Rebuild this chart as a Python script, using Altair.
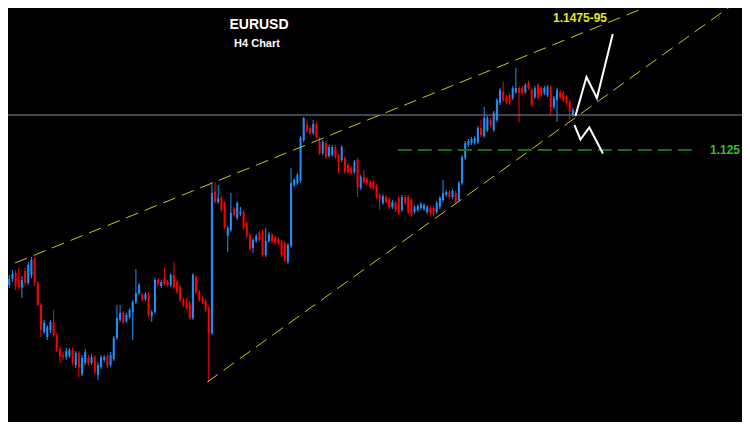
import altair as alt
import pandas as pd

# ---------------- data (EURUSD H4 candles) ----------------
opens = [1.1120,1.1115,1.1121,1.1127,1.1120,1.1113,1.1129,1.1117,1.1125,1.1141,
 1.1117,1.1095,1.1068,1.1063,1.1070,1.1078,1.1065,1.1051,1.1045,1.1043,
 1.1044,1.1050,1.1035,1.1047,1.1026,1.1037,1.1042,1.1037,1.1043,1.1025,
 1.1033,1.1040,1.1044,1.1035,1.1041,1.1062,1.1080,1.1087,1.1079,1.1083,
 1.1088,1.1098,1.1107,1.1105,1.1101,1.1106,1.1084,1.1088,1.1120,1.1114,
 1.1122,1.1118,1.1115,1.1125,1.1118,1.1113,1.1100,1.1096,1.1097,1.1082,
 1.1123,1.1108,1.1102,1.1099,1.1092,1.1067,1.1208,1.1198,1.1202,1.1197,
 1.1164,1.1170,1.1191,1.1182,1.1186,1.1188,1.1177,1.1165,1.1152,1.1159,
 1.1167,1.1168,1.1145,1.1159,1.1165,1.1162,1.1161,1.1158,1.1157,1.1138,
 1.1154,1.1215,1.1217,1.1219,1.1260,1.1275,1.1272,1.1267,1.1276,1.1258,
 1.1247,1.1257,1.1244,1.1245,1.1253,1.1245,1.1240,1.1242,1.1235,1.1232,
 1.1228,1.1240,1.1212,1.1223,1.1221,1.1218,1.1218,1.1214,1.1205,1.1197,
 1.1203,1.1201,1.1193,1.1197,1.1202,1.1190,1.1203,1.1203,1.1200,1.1188,
 1.1190,1.1192,1.1191,1.1188,1.1192,1.1192,1.1188,1.1193,1.1200,1.1205,
 1.1208,1.1203,1.1207,1.1200,1.1217,1.1242,1.1255,1.1257,1.1257,1.1258,
 1.1272,1.1264,1.1270,1.1280,1.1270,1.1280,1.1297,1.1308,1.1303,
 1.1305,1.1302,1.1308,1.1312,1.1312,
 1.1308,1.1317,1.1310,1.1303,1.1315,1.1312,1.1307,
 1.1305,1.1313,1.1293,1.1300,1.1308,1.1307,1.1303,1.1298,1.1285]

closes = [1.1115,1.1121,1.1126,1.1114,1.1113,1.1120,1.1117,1.1135,1.1140,1.1117,
 1.1095,1.1070,1.1077,1.1073,1.1078,1.1065,1.1050,1.1044,1.1043,1.1049,
 1.1050,1.1037,1.1047,1.1033,1.1042,1.1048,1.1037,1.1043,1.1028,1.1035,
 1.1043,1.1043,1.1034,1.1045,1.1062,1.1082,1.1087,1.1078,1.1085,1.1090,
 1.1098,1.1107,1.1115,1.1101,1.1106,1.1085,1.1088,1.1120,1.1116,1.1118,
 1.1116,1.1115,1.1125,1.1113,1.1108,1.1100,1.1095,1.1092,1.1082,1.1125,
 1.1108,1.1100,1.1098,1.1090,1.1067,1.1207,1.1198,1.1202,1.1190,1.1173,
 1.1172,1.1187,1.1185,1.1197,1.1188,1.1172,1.1164,1.1151,1.1160,1.1164,
 1.1160,1.1145,1.1159,1.1166,1.1159,1.1157,1.1157,1.1145,1.1140,1.1155,
 1.1217,1.1220,1.1225,1.1262,1.1282,1.1269,1.1267,1.1276,1.1263,1.1247,
 1.1258,1.1243,1.1253,1.1253,1.1243,1.1238,1.1253,1.1228,1.1228,1.1227,
 1.1238,1.1213,1.1223,1.1218,1.1217,1.1213,1.1212,1.1203,1.1201,1.1204,
 1.1198,1.1193,1.1198,1.1190,1.1187,1.1203,1.1197,1.1188,1.1185,1.1193,
 1.1194,1.1196,1.1195,1.1193,1.1187,1.1186,1.1197,1.1202,1.1207,1.1208,
 1.1203,1.1209,1.1198,1.1217,1.1243,1.1257,1.1259,1.1261,1.1262,1.1272,
 1.1265,1.1282,1.1282,1.1275,1.1287,1.1300,1.1310,1.1300,1.1298,
 1.1297,1.1312,1.1312,1.1307,1.1307,
 1.1315,1.1312,1.1295,1.1312,1.1303,1.1305,1.1312,
 1.1313,1.1293,1.1302,1.1310,1.1303,1.1300,1.1297,1.1288,1.1290]

highs = [1.1124,1.1125,1.1130,1.1130,1.1132,1.1124,1.1132,1.1138,1.1143,1.1143,
 1.1119,1.1097,1.1080,1.1075,1.1080,1.1090,1.1067,1.1054,1.1048,1.1052,
 1.1052,1.1052,1.1049,1.1049,1.1045,1.1051,1.1045,1.1046,1.1045,1.1038,
 1.1045,1.1045,1.1046,1.1048,1.1064,1.1095,1.1095,1.1089,1.1087,1.1092,
 1.1100,1.1131,1.1117,1.1107,1.1108,1.1108,1.1090,1.1122,1.1122,1.1120,
 1.1132,1.1120,1.1127,1.1138,1.1120,1.1115,1.1102,1.1102,1.1099,1.1127,
 1.1125,1.1110,1.1104,1.1101,1.1094,1.1218,1.1218,1.1215,1.1204,1.1199,
 1.1174,1.1207,1.1193,1.1199,1.1193,1.1190,1.1179,1.1167,1.1162,1.1166,
 1.1169,1.1170,1.1172,1.1168,1.1167,1.1164,1.1163,1.1160,1.1159,1.1157,
 1.1232,1.1222,1.1227,1.1264,1.1283,1.1280,1.1274,1.1280,1.1278,1.1263,
 1.1260,1.1259,1.1255,1.1255,1.1255,1.1247,1.1255,1.1244,1.1237,1.1234,
 1.1240,1.1242,1.1225,1.1230,1.1223,1.1220,1.1220,1.1216,1.1207,1.1206,
 1.1205,1.1203,1.1200,1.1199,1.1204,1.1205,1.1205,1.1205,1.1202,1.1195,
 1.1196,1.1198,1.1197,1.1195,1.1194,1.1194,1.1199,1.1204,1.1220,1.1210,
 1.1210,1.1211,1.1209,1.1219,1.1245,1.1259,1.1261,1.1263,1.1264,1.1274,
 1.1280,1.1293,1.1284,1.1282,1.1289,1.1302,1.1312,1.1318,1.1305,
 1.1307,1.1314,1.1332,1.1314,1.1314,
 1.1317,1.1319,1.1312,1.1314,1.1317,1.1314,1.1314,
 1.1315,1.1315,1.1304,1.1312,1.1310,1.1309,1.1305,1.1300,1.1292]

lows = [1.1110,1.1112,1.1118,1.1110,1.1110,1.1102,1.1114,1.1115,1.1122,1.1114,
 1.1094,1.1063,1.1066,1.1060,1.1067,1.1063,1.1048,1.1037,1.1040,1.1040,
 1.1042,1.1035,1.1032,1.1023,1.1024,1.1035,1.1034,1.1035,1.1026,1.1020,
 1.1031,1.1038,1.1032,1.1033,1.1039,1.1060,1.1078,1.1076,1.1077,1.1081,
 1.1060,1.1096,1.1105,1.1099,1.1099,1.1083,1.1078,1.1086,1.1114,1.1112,
 1.1114,1.1113,1.1113,1.1111,1.1106,1.1098,1.1093,1.1090,1.1080,1.1080,
 1.1106,1.1098,1.1096,1.1088,1.1018,1.1065,1.1196,1.1196,1.1188,1.1171,
 1.1148,1.1168,1.1183,1.1180,1.1184,1.1170,1.1162,1.1149,1.1147,1.1157,
 1.1158,1.1143,1.1143,1.1157,1.1157,1.1155,1.1155,1.1143,1.1138,1.1136,
 1.1152,1.1213,1.1215,1.1217,1.1258,1.1267,1.1265,1.1265,1.1261,1.1245,
 1.1245,1.1241,1.1242,1.1243,1.1241,1.1227,1.1238,1.1226,1.1226,1.1225,
 1.1226,1.1203,1.1210,1.1216,1.1215,1.1211,1.1210,1.1201,1.1190,1.1195,
 1.1196,1.1191,1.1191,1.1188,1.1185,1.1188,1.1195,1.1186,1.1183,1.1186,
 1.1188,1.1190,1.1189,1.1186,1.1185,1.1184,1.1186,1.1191,1.1198,1.1203,
 1.1201,1.1201,1.1196,1.1198,1.1215,1.1240,1.1253,1.1255,1.1255,1.1256,
 1.1263,1.1262,1.1268,1.1273,1.1268,1.1278,1.1295,1.1298,1.1296,
 1.1295,1.1300,1.1306,1.1278,1.1305,
 1.1306,1.1310,1.1293,1.1301,1.1301,1.1303,1.1305,
 1.1303,1.1285,1.1291,1.1278,1.1301,1.1298,1.1295,1.1280,1.1283]

# trend lines (bar index, price)
upper_trend_x = [2.8, 217.8]
upper_trend_y = [1.1137, 1.1413]
lower_trend_x = [63.55, 233.3]
lower_trend_y = [1.1018, 1.1404]

current_level = 1.1285          # grey horizontal line
support_level = 1.1250          # green dashed line
support_x = [123.7, 218.5]

# white scenario zig-zags (bar index, price)
up_path_x = [179.8, 183.3, 186.6, 191.6]
up_path_y = [1.1284, 1.1323, 1.1302, 1.1366]
down_path_x = [179.5, 181.4, 184.2, 188.5]
down_path_y = [1.1275, 1.12605, 1.12725, 1.12465]

# ---------------- chart ----------------
W, H = 734, 414
xs = alt.Scale(domain=[2.181, 230.84], nice=False, zero=False)
ys = alt.Scale(domain=[1.0978, 1.1392], nice=False, zero=False)

df = pd.DataFrame({"i": list(range(len(opens))), "open": opens, "close": closes,
                   "high": highs, "low": lows})
df["dir"] = ["up" if c >= o else "down" for o, c in zip(opens, closes)]

col = alt.Color("dir:N", scale=alt.Scale(domain=["up", "down"], range=["#1e90ff", "#ff0000"]),
                legend=None)
X = alt.X("i:Q", scale=xs, axis=None)

wicks = alt.Chart(df).mark_rule(strokeWidth=1, clip=True).encode(
    x=X, y=alt.Y("low:Q", scale=ys, axis=None), y2="high:Q", color=col)
bodies = alt.Chart(df).mark_bar(size=2, clip=True).encode(
    x=X, y=alt.Y("open:Q", scale=ys, axis=None), y2="close:Q", color=col)

trend_df = pd.DataFrame({
    "line": ["upper"] * 2 + ["lower"] * 2,
    "i": upper_trend_x + lower_trend_x,
    "p": upper_trend_y + lower_trend_y,
})
trends = alt.Chart(trend_df).mark_line(color="#c8c814", strokeWidth=1, strokeDash=[13, 7],
                                       clip=True).encode(
    x=X, y=alt.Y("p:Q", scale=ys, axis=None), detail="line:N")

grey = alt.Chart(pd.DataFrame({"p": [current_level]})).mark_rule(
    color="#7d8da3", strokeWidth=1).encode(y=alt.Y("p:Q", scale=ys, axis=None))

green_df = pd.DataFrame({"i": [support_x[0]], "i2": [support_x[1]], "p": [support_level]})
green = alt.Chart(green_df).mark_rule(color="#1d6b1d", strokeWidth=2, strokeDash=[14, 6],
                                      clip=True).encode(
    x=X, x2="i2:Q", y=alt.Y("p:Q", scale=ys, axis=None))

path_df = pd.DataFrame({
    "path": ["up"] * 4 + ["down"] * 4,
    "k": list(range(4)) * 2,
    "i": up_path_x + down_path_x,
    "p": up_path_y + down_path_y,
})
paths = alt.Chart(path_df).mark_line(color="white", strokeWidth=2, clip=True).encode(
    x=X, y=alt.Y("p:Q", scale=ys, axis=None), detail="path:N", order="k:Q")

font = "Liberation Sans"
t1 = alt.Chart(pd.DataFrame({"t": ["EURUSD"]})).mark_text(
    font=font, fontWeight="bold", fontSize=14, color="white", align="center",
    baseline="alphabetic").encode(text="t:N", x=alt.value(251), y=alt.value(21))
t2 = alt.Chart(pd.DataFrame({"t": ["H4 Chart"]})).mark_text(
    font=font, fontWeight="bold", fontSize=11, color="white", align="center",
    baseline="alphabetic").encode(text="t:N", x=alt.value(249), y=alt.value(39))
t3 = alt.Chart(pd.DataFrame({"t": ["1.1475-95"]})).mark_text(
    font=font, fontWeight="bold", fontSize=12, color="#e8e81a", align="left",
    baseline="alphabetic").encode(text="t:N", x=alt.value(545), y=alt.value(14))
t4 = alt.Chart(pd.DataFrame({"t": ["1.125"]})).mark_text(
    font=font, fontWeight="bold", fontSize=12, color="#30c030", align="right",
    baseline="alphabetic").encode(text="t:N", x=alt.value(732), y=alt.value(146))

chart = alt.layer(wicks, bodies, grey, green, trends, paths, t1, t2, t3, t4).properties(
    width=W, height=H, padding=0, autosize=alt.AutoSizeParams(type="none")
).configure(background="black").configure_view(strokeWidth=0)

chart.save("out.html", embed_options={"renderer": "svg", "actions": False})
